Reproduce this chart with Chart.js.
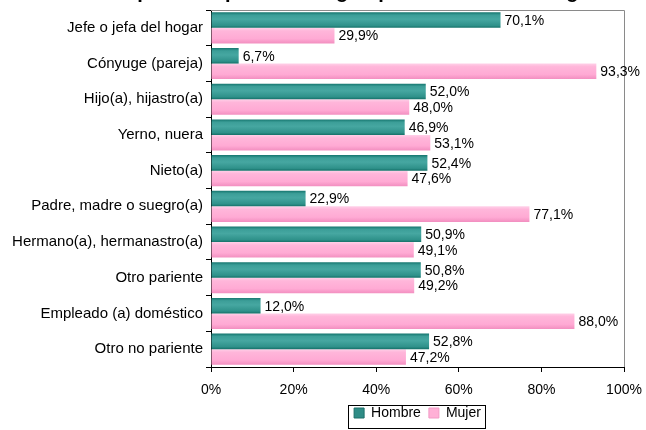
<!DOCTYPE html>
<html><head><meta charset="utf-8">
<script src="https://cdn.jsdelivr.net/npm/chart.js@4/dist/chart.umd.min.js"></script>
<style>html,body{margin:0;padding:0;background:#fff;}#wrap{width:646px;height:430px;position:relative;}</style>
</head><body><div id="wrap"><canvas id="c" width="646" height="430"></canvas></div>
<script>
const categories = ["Jefe o jefa del hogar","Cónyuge (pareja)","Hijo(a), hijastro(a)","Yerno, nuera","Nieto(a)","Padre, madre o suegro(a)","Hermano(a), hermanastro(a)","Otro pariente","Empleado (a) doméstico","Otro no pariente"];
const hombre = [70.1, 6.7, 52.0, 46.9, 52.4, 22.9, 50.9, 50.8, 12.0, 52.8];
const mujer  = [29.9, 93.3, 48.0, 53.1, 47.6, 77.1, 49.1, 49.2, 88.0, 47.2];
const seriesNames = ["Hombre","Mujer"];
const titleText = "Composición por sexo según parentesco en el hogar";

const CAT_PCT = 0.87;
function barGrad(ctx, which){
  const chart = ctx.chart;
  const ys = chart.scales.y;
  const base = which===0 ? '#3a9c96' : '#ffb0d6';
  if(!ys || ctx.dataIndex===undefined) return base;
  const c = ys.getPixelForValue(ctx.dataIndex);
  const band = (ys.bottom - ys.top)/categories.length;
  const t = band*CAT_PCT/2;
  const y0 = which===0 ? c - t : c;
  const y1 = which===0 ? c : c + t;
  const g = chart.ctx.createLinearGradient(0,y0,0,y1);
  if(which===0){
    g.addColorStop(0,'#16766f');
    g.addColorStop(0.18,'#3c9e98');
    g.addColorStop(0.45,'#46a7a1');
    g.addColorStop(0.85,'#2f918a');
    g.addColorStop(1,'#147068');
  } else {
    g.addColorStop(0,'#ffd0e8');
    g.addColorStop(0.2,'#ffb6da');
    g.addColorStop(0.7,'#ffaad4');
    g.addColorStop(1,'#f28fc0');
  }
  return g;
}

const labelPlugin = {
  id:'labels',
  afterDatasetsDraw(chart){
    const ctx = chart.ctx;
    ctx.save();
    ctx.font = '14px "Liberation Sans", Arial, sans-serif';
    ctx.fillStyle = '#000';
    ctx.textAlign = 'left';
    ctx.textBaseline = 'middle';
    chart.data.datasets.forEach((ds,di)=>{
      chart.getDatasetMeta(di).data.forEach((el,i)=>{
        const txt = ds.data[i].toFixed(1).replace('.',',')+'%';
        ctx.fillText(txt, el.x+4, el.y+1);
      });
    });
    ctx.restore();
  }
};
const framePlugin = {
  id:'frame',
  beforeDatasetsDraw(chart){
    const a = chart.chartArea, ctx = chart.ctx;
    ctx.save();
    ctx.strokeStyle = '#8a8a8a';
    ctx.lineWidth = 1;
    ctx.beginPath();
    ctx.moveTo(a.left, a.top+0.5);
    ctx.lineTo(a.right+0.5, a.top+0.5);
    ctx.lineTo(a.right+0.5, a.bottom);
    ctx.stroke();
    ctx.restore();
  },
  afterDraw(chart){
    const ctx = chart.ctx;
    ctx.save();
    ctx.font = 'bold 20px "Liberation Sans", Arial, sans-serif';
    ctx.fillStyle = '#000';
    ctx.textAlign = 'center';
    ctx.textBaseline = 'alphabetic';
    ctx.fillText(titleText, 345, -2);
    ctx.restore();
    const lg = chart.legend;
    if(lg && lg.legendHitBoxes && lg.legendHitBoxes.length){
      const hb = lg.legendHitBoxes;
      const x0 = hb[0].left - 6;
      const last = hb[hb.length-1];
      const x1 = last.left + last.width + 4;
      ctx.save();
      ctx.strokeStyle = '#000';
      ctx.lineWidth = 1;
      ctx.strokeRect(Math.round(x0)+0.5, 405.5, Math.round(x1-x0), 23);
      ctx.restore();
    }
  }
};

new Chart(document.getElementById('c'), {
  type:'bar',
  data:{
    labels: categories,
    datasets:[
      {label: seriesNames[0], data: hombre, backgroundColor: c=>barGrad(c,0), borderWidth:0,
       categoryPercentage: CAT_PCT, barPercentage: 1},
      {label: seriesNames[1], data: mujer, backgroundColor: c=>barGrad(c,1), borderWidth:0,
       categoryPercentage: CAT_PCT, barPercentage: 1}
    ]
  },
  options:{
    indexAxis:'y',
    responsive:false,
    animation:false,
    devicePixelRatio:1,
    layout:{padding:{top:0,right:22,left:0,bottom:0}},
    scales:{
      x:{
        min:0,max:100,
        ticks:{stepSize:20, callback:v=>v+'%', color:'#000', padding:10,
          font:{family:'"Liberation Sans", Arial, sans-serif', size:14}},
        grid:{drawOnChartArea:false, drawTicks:true, tickLength:5, color:'#000'},
        border:{color:'#000', width:1},
        afterFit(s){ s.height = 31; s.paddingRight = 22; s.paddingLeft = 0; }
      },
      y:{
        ticks:{color:'#000', padding:3, font:{family:'"Liberation Sans", Arial, sans-serif', size:15}},
        grid:{offset:true, drawOnChartArea:false, drawTicks:true, tickLength:5, color:'#000'},
        border:{color:'#000', width:1},
        afterFit(s){ s.width = 211; s.paddingTop = 10; s.paddingBottom = 0; }
      }
    },
    plugins:{
      legend:{
        position:'bottom',
        fullSize:false,
        labels:{boxWidth:10, boxHeight:10, padding:8, color:'#000',
          font:{family:'"Liberation Sans", Arial, sans-serif', size:14},
          generateLabels(chart){
            return seriesNames.map((n,i)=>({text:n, fillStyle: i===0?'#2e8c86':'#ffb0d6', strokeStyle:i===0?'#1c6f69':'#f29bc6', lineWidth:1, datasetIndex:i, hidden:false}));
          }
        }
      },
      tooltip:{enabled:false},
      title:{display:false}
    }
  },
  plugins:[labelPlugin, framePlugin]
});
</script></body></html>
